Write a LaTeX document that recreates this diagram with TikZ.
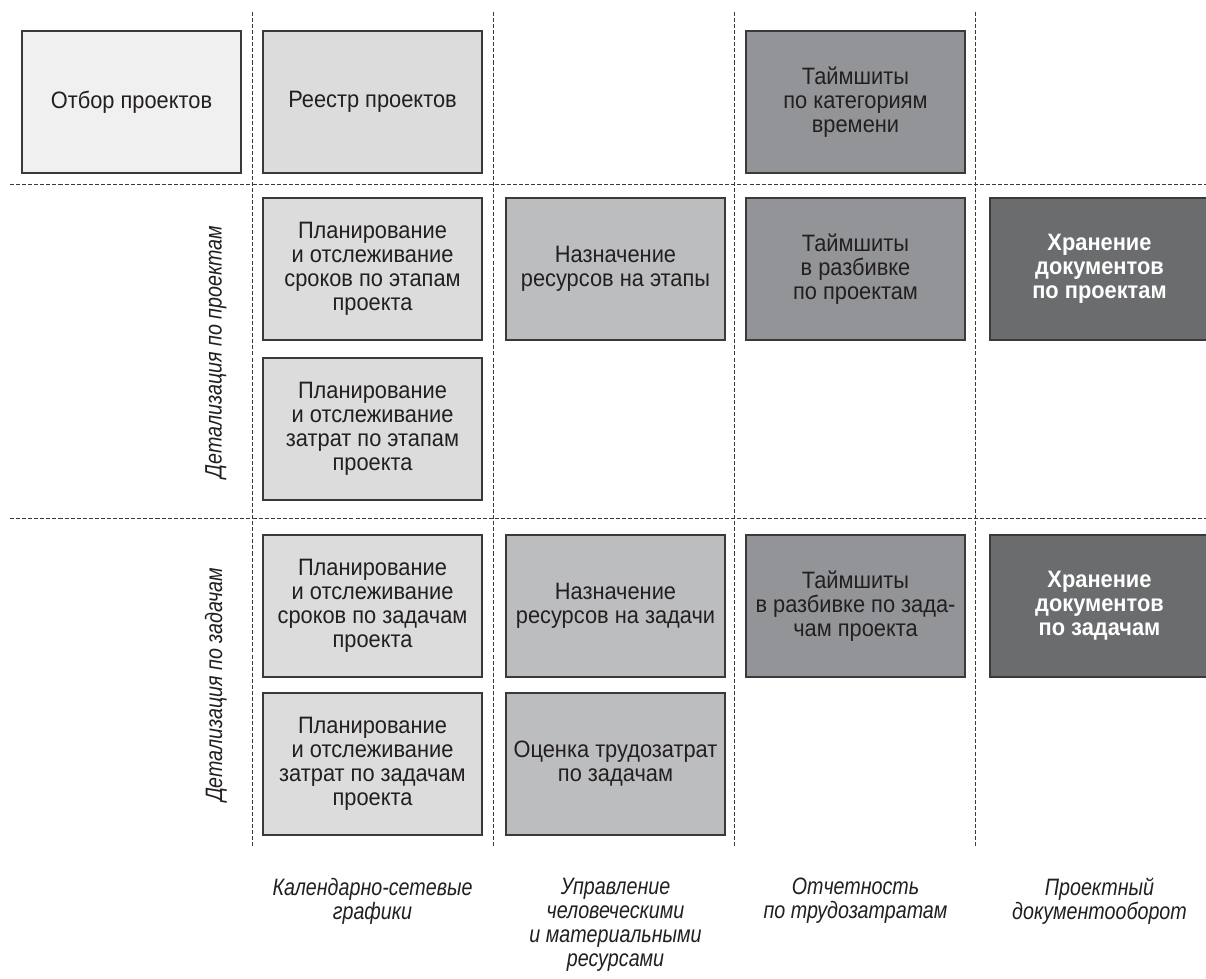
\documentclass[tikz,border=0pt]{standalone}
\usepackage{fontspec}
\setmainfont{Liberation Sans}[UprightFeatures={FakeStretch=0.92},BoldFeatures={FakeStretch=0.92},ItalicFeatures={FakeStretch=0.83}]
\definecolor{ink}{HTML}{231F20}
\definecolor{boxline}{HTML}{3A3A3A}
\definecolor{fillA}{HTML}{F0F0F0}
\definecolor{fillB}{HTML}{DCDCDD}
\definecolor{fillC}{HTML}{BCBDBF}
\definecolor{fillD}{HTML}{939497}
\definecolor{fillE}{HTML}{6B6C6E}
\tikzset{
 cell/.style={draw=boxline,line width=0.8pt,minimum width=4.38cm,minimum height=2.84cm,
  inner sep=2pt,align=center,text=ink,font=\fontsize{13.5}{13.7}\selectfont},
 grp/.style={text=ink,align=center,font=\fontsize{13.5}{13.7}\selectfont\itshape},
 sep/.style={boxline,line width=0.55pt,dash pattern=on 2.3pt off 1.15pt}
}
\begin{document}
\begin{tikzpicture}[x=0.02cm,y=-0.02cm]
 \useasboundingbox[fill=white](0,0) rectangle (1206,979);
 \foreach \x in {252,493,734,975} \draw[sep](\x,12)--(\x,848);
 \draw[sep](10,184)--(1206,184);
 \draw[sep](10,518)--(1206,518);
 \node[cell,fill=fillA](otbor) at (131.5,102) {Отбор проектов};
 \node[cell,fill=fillB](reestr) at (372.5,102) {Реестр проектов};
 \node[cell,fill=fillD](tsCat) at (855.5,102) {Таймшиты\\по категориям\\времени};
 \node[cell,fill=fillB](planSrokEtap) at (372.5,269) {Планирование\\и отслеживание\\сроков по этапам\\проекта};
 \node[cell,fill=fillC](naznEtap) at (615.5,269) {Назначение\\ресурсов на этапы};
 \node[cell,fill=fillD](tsProj) at (855.5,269) {Таймшиты\\в разбивке\\по проектам};
 \node[cell,fill=fillE,text=white,font=\fontsize{13.5}{13.7}\selectfont\bfseries](hranProj) at (1099.5,269) {Хранение\\документов\\по проектам};
 \node[cell,fill=fillB](planZatrEtap) at (372.5,429) {Планирование\\и отслеживание\\затрат по этапам\\проекта};
 \node[cell,fill=fillB](planSrokZad) at (372.5,606) {Планирование\\и отслеживание\\сроков по задачам\\проекта};
 \node[cell,fill=fillC](naznZad) at (615.5,606) {Назначение\\ресурсов на задачи};
 \node[cell,fill=fillD](tsZad) at (855.5,606) {Таймшиты\\в разбивке по зада-\\чам проекта};
 \node[cell,fill=fillE,text=white,font=\fontsize{13.5}{13.7}\selectfont\bfseries](hranZad) at (1099.5,606) {Хранение\\документов\\по задачам};
 \node[cell,fill=fillB](planZatrZad) at (372.5,764) {Планирование\\и отслеживание\\затрат по задачам\\проекта};
 \node[cell,fill=fillC](ocenka) at (615.5,764) {Оценка трудозатрат\\по задачам};
 \node[grp,rotate=90](lblProj) at (216,352) {Детализация по проектам};
 \node[grp,rotate=90](lblZad) at (216,685) {Детализация по задачам};
 \node[grp,anchor=north](lblKal) at (372.5,872) {Календарно-сетевые\\графики};
 \node[grp,anchor=north](lblUpr) at (615.5,872) {Управление\\человеческими\\и материальными\\ресурсами};
 \node[grp,anchor=north](lblOtch) at (855.5,872) {Отчетность\\по трудозатратам};
 \node[grp,anchor=north](lblDoc) at (1099.5,872) {Проектный\\документооборот};
\end{tikzpicture}
\end{document}
